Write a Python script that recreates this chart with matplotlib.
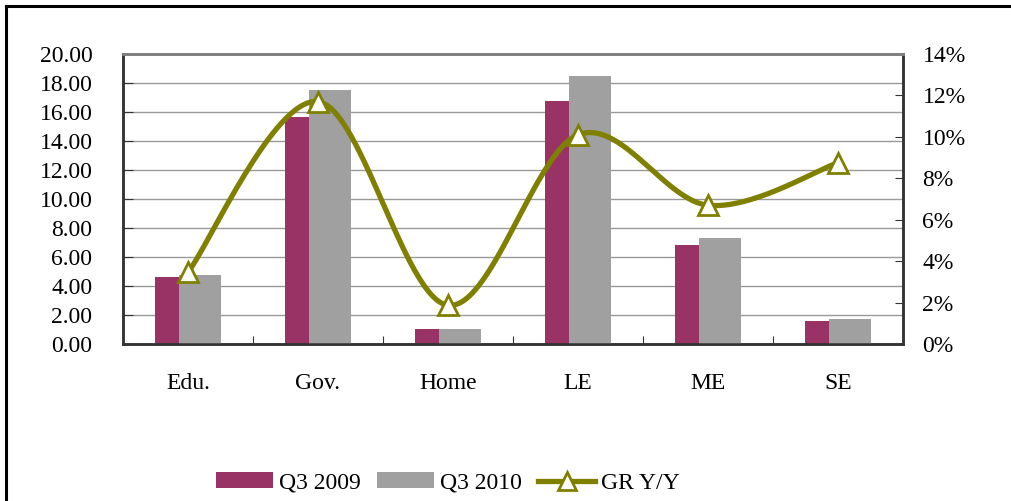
import numpy as np
import matplotlib
matplotlib.use("Agg")
import matplotlib.pyplot as plt
from matplotlib.lines import Line2D
from matplotlib.patches import Patch
from matplotlib.ticker import FuncFormatter, MultipleLocator

categories = ["Edu.", "Gov.", "Home", "LE", "ME", "SE"]
q3_2009 = [4.60, 15.65, 1.03, 16.77, 6.80, 1.58]
q3_2010 = [4.75, 17.50, 1.03, 18.50, 7.28, 1.72]
gr_yy = [3.46, 11.70, 1.87, 10.10, 6.70, 8.75]  # percent

C_2009 = "#993366"
C_2010 = "#A0A0A0"
C_GR = "#808000"

plt.rcParams["font.family"] = ["Liberation Serif", "DejaVu Serif"]
FS = 17

W, H = 1011, 501
fig = plt.figure(figsize=(W / 100, H / 100), dpi=100)
ax = fig.add_axes([123 / W, 1 - 344 / H, (903 - 123) / W, (344 - 54) / H])
ax2 = ax.twinx()

x = np.arange(len(categories))
bw = 0.323
off = 0.096
ax.bar(x - off, q3_2009, bw, color=C_2009, zorder=2)
ax.bar(x + off, q3_2010, bw, color=C_2010, zorder=3)

ax.set_xlim(-0.5, len(categories) - 0.5)
ax.set_ylim(0, 20)
ax.yaxis.set_major_locator(MultipleLocator(2))
ax.yaxis.set_major_formatter(FuncFormatter(lambda v, p: f"{v:.2f}"))
ax.grid(axis="y", color="#999999", linewidth=1.0, zorder=0)
ax.set_axisbelow(True)
ax.set_xticks(np.arange(-0.5, len(categories), 1.0), minor=False)
ax.set_xticklabels([])
ax.set_xticks(x, minor=True)
ax.set_xticklabels(categories, minor=True)
ax.tick_params(axis="x", which="major", direction="in", length=6, color="#333333")
ax.tick_params(axis="x", which="minor", length=0, pad=21, labelsize=FS)
ax.tick_params(axis="y", direction="in", length=7, color="#333333", labelsize=FS, pad=22)

# Smooth line (Catmull-Rom style Bezier, like spreadsheet smoothed lines)
px = x.astype(float)
py = np.array(gr_yy, dtype=float)
xs, ys = [], []
n = len(px)
for i in range(n - 1):
    p0 = (px[i - 1], py[i - 1]) if i > 0 else (px[i], py[i])
    p1 = (px[i], py[i])
    p2 = (px[i + 1], py[i + 1])
    p3 = (px[i + 2], py[i + 2]) if i + 2 < n else (px[i + 1], py[i + 1])
    c1 = (p1[0] + (p2[0] - p0[0]) / 6, p1[1] + (p2[1] - p0[1]) / 6)
    c2 = (p2[0] - (p3[0] - p1[0]) / 6, p2[1] - (p3[1] - p1[1]) / 6)
    t = np.linspace(0, 1, 60)
    bx = (1 - t) ** 3 * p1[0] + 3 * (1 - t) ** 2 * t * c1[0] + 3 * (1 - t) * t ** 2 * c2[0] + t ** 3 * p2[0]
    by = (1 - t) ** 3 * p1[1] + 3 * (1 - t) ** 2 * t * c1[1] + 3 * (1 - t) * t ** 2 * c2[1] + t ** 3 * p2[1]
    xs.extend(bx)
    ys.extend(by)
ax2.plot(xs, ys, color=C_GR, linewidth=3.8, solid_capstyle="round", zorder=4)
ax2.plot(px, py, linestyle="none", marker="^", markersize=15, markerfacecolor="white",
         markeredgecolor=C_GR, markeredgewidth=2, zorder=5)
ax2.set_ylim(0, 14)
ax2.yaxis.set_major_locator(MultipleLocator(2))
ax2.yaxis.set_major_formatter(FuncFormatter(lambda v, p: f"{v:.0f}%"))
ax2.tick_params(axis="y", direction="in", length=6, color="#333333", labelsize=FS, pad=14)
ax2.set_xlim(-0.5, len(categories) - 0.5)

for a in (ax, ax2):
    a.spines["top"].set_color("#808080")
    a.spines["top"].set_linewidth(2)
    for s in ("left", "right", "bottom"):
        a.spines[s].set_color("#333333")
        a.spines[s].set_linewidth(1.8)

handles = [
    Patch(facecolor=C_2009, edgecolor="none", label="Q3 2009"),
    Patch(facecolor=C_2010, edgecolor="none", label="Q3 2010"),
    Line2D([0], [0], color=C_GR, linewidth=3.8, marker="^", markersize=13,
           markerfacecolor="white", markeredgecolor=C_GR, markeredgewidth=2, label="GR Y/Y"),
]
fig.legend(handles=handles, loc="center", bbox_to_anchor=(448 / W, 1 - 483 / H), ncol=3,
           frameon=False, fontsize=FS, handlelength=2.4, handleheight=0.65,
           handletextpad=0.25, columnspacing=0.7)

# figure frame (left and top lines)
fig.add_artist(Line2D([6 / W, 6 / W], [0, 1 - 6 / H], color="black", linewidth=2.2,
                      transform=fig.transFigure))
fig.add_artist(Line2D([6 / W, 1], [1 - 6 / H, 1 - 6 / H], color="black", linewidth=2.2,
                      transform=fig.transFigure))

fig.savefig("out.png", dpi=100)
